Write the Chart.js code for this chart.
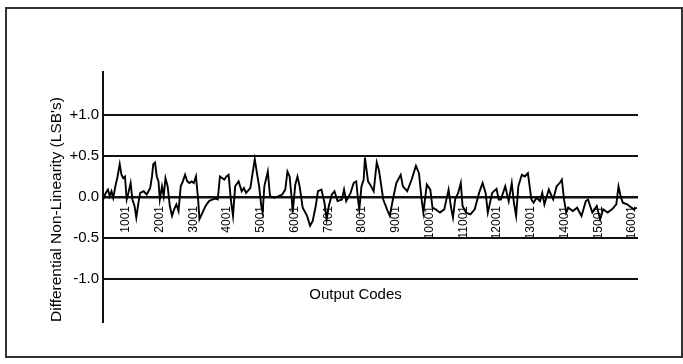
<!DOCTYPE html>
<html>
<head>
<meta charset="utf-8">
<title>Differential Non-Linearity</title>
<script src="https://cdn.jsdelivr.net/npm/chart.js@4.4.0/dist/chart.umd.min.js"></script>
<style>
  html, body { margin: 0; padding: 0; background: #fff; }
  body { width: 683px; height: 364px; position: relative; overflow: hidden; }
  #frame { position: absolute; left: 5px; top: 7px; width: 678px; height: 351px; border: 2px solid #333; box-sizing: border-box; }
  #dnl { position: absolute; left: 0; top: 0; }
</style>
</head>
<body>
<div id="frame"></div>
<canvas id="dnl" width="683" height="364"></canvas>
<script>
(function () {
    "use strict";

    // output code (x) and DNL in LSB's (y)
    const codes = [
        325, 403, 467, 519, 571, 622, 687, 752, 816, 868, 919, 971, 1023, 1074, 1139, 1191, 1255, 1307, 1371, 1423,
        1526, 1617, 1720, 1772, 1810, 1862, 1914, 1965, 2004, 2069, 2120, 2172, 2237, 2301, 2366, 2430, 2495, 2559, 2624, 2688,
        2753, 2818, 2882, 2947, 3011, 3076, 3140, 3179, 3270, 3360, 3463, 3567, 3657, 3722, 3786, 3851, 3915, 3980, 4044, 4109,
        4174, 4238, 4341, 4432, 4496, 4561, 4690, 4755, 4819, 4884, 4948, 5013, 5052, 5103, 5206, 5271, 5400, 5529, 5633, 5723,
        5788, 5852, 5917, 5943, 6020, 6085, 6149, 6240, 6369, 6459, 6537, 6627, 6692, 6795, 6885, 6950, 7014, 7105, 7182, 7273,
        7402, 7466, 7531, 7660, 7750, 7828, 7880, 7918, 7983, 8047, 8086, 8177, 8241, 8344, 8435, 8499, 8564, 8628, 8758, 8822,
        8913, 9016, 9145, 9210, 9339, 9468, 9597, 9687, 9765, 9817, 9920, 10023, 10088, 10178, 10307, 10436, 10565, 10630, 10695, 10759,
        10849, 10927, 10979, 11082, 11211, 11340, 11469, 11573, 11663, 11728, 11857, 11986, 12050, 12115, 12244, 12347, 12438, 12502, 12567, 12632,
        12735, 12825, 12916, 13019, 13083, 13174, 13277, 13342, 13406, 13535, 13665, 13768, 13858, 13923, 13987, 14052, 14117, 14246, 14375, 14504,
        14633, 14698, 14827, 14956, 15059, 15150, 15279, 15408, 15537, 15602, 15666, 15731, 15860, 15924, 16054, 16144
    ];
    const dnl = [
        -0.03, 0.05, 0.09, 0.01, 0.07, -0.01, 0.13, 0.25, 0.40, 0.27, 0.23, 0.25, -0.03, 0.05, 0.17, -0.03, -0.11, -0.25, -0.07, 0.05,
        0.07, 0.03, 0.11, 0.25, 0.40, 0.42, 0.25, 0.19, -0.03, 0.13, 0.01, 0.23, 0.13, -0.11, -0.23, -0.15, -0.09, -0.17, 0.13, 0.19,
        0.27, 0.19, 0.17, 0.19, 0.17, 0.25, -0.03, -0.27, -0.19, -0.11, -0.05, -0.03, -0.02, -0.03, 0.25, 0.23, 0.21, 0.25, 0.27, -0.03,
        -0.23, 0.13, 0.19, 0.07, 0.11, 0.05, 0.11, 0.29, 0.46, 0.29, 0.13, -0.11, -0.19, 0.13, 0.31, 0.01, -0.01, 0.01, 0.03, 0.09,
        0.31, 0.25, -0.03, -0.19, 0.15, 0.25, 0.13, -0.13, -0.23, -0.35, -0.29, -0.11, 0.07, 0.09, -0.07, -0.27, -0.11, 0.03, 0.07, -0.05,
        -0.03, 0.09, -0.05, 0.05, 0.17, 0.19, -0.03, -0.15, 0.13, 0.21, 0.48, 0.19, 0.15, 0.07, 0.42, 0.33, 0.15, -0.03, -0.17, -0.23,
        -0.03, 0.17, 0.27, 0.13, 0.07, 0.21, 0.38, 0.29, -0.03, -0.19, 0.15, 0.09, -0.13, -0.15, -0.19, -0.15, 0.09, -0.11, -0.25, -0.03,
        0.05, 0.17, -0.11, -0.19, -0.21, -0.15, 0.05, 0.17, 0.05, -0.19, 0.05, 0.10, -0.03, -0.03, 0.13, -0.05, 0.17, -0.07, -0.23, 0.13,
        0.27, 0.25, 0.29, -0.03, -0.07, -0.01, -0.05, 0.05, -0.09, 0.09, -0.03, 0.13, 0.17, 0.21, -0.03, -0.19, -0.13, -0.17, -0.13, -0.23,
        -0.05, -0.03, -0.19, -0.11, -0.27, -0.15, -0.19, -0.15, -0.09, 0.13, 0.01, -0.07, -0.09, -0.11, -0.15, -0.13
    ];
    const xTickCodes = [1001, 2001, 3001, 4001, 5001, 6001, 7001, 8001, 9001, 10001, 11001, 12001, 13001, 14001, 15001, 16001];
    const yTickValues = [-1.0, -0.5, 0.0, 0.5, 1.0];

    const xMin = 320, xMax = 16180;
    const yMin = -1.52, yMax = 1.52;

    Chart.defaults.font.family = '"Liberation Sans", Arial, Helvetica, sans-serif';
    Chart.defaults.color = '#000';

    // "Output Codes" sits inside the plot, a bit left of centre
    const outputCodesLabel = {
        id: 'outputCodesLabel',
        afterDraw(chart) {
            const area = chart.chartArea;
            const ctx = chart.ctx;
            ctx.save();
            ctx.font = '15px "Liberation Sans", Arial, sans-serif';
            ctx.fillStyle = '#000';
            ctx.textAlign = 'center';
            ctx.textBaseline = 'middle';
            ctx.fillText('Output Codes', area.left + (area.right - area.left) * 0.472, chart.scales.y.getPixelForValue(-1.19));
            ctx.restore();
        }
    };

    function initChart() {
        const ctx = document.getElementById('dnl').getContext('2d');
        new Chart(ctx, {
            type: 'line',
            data: {
                datasets: [{
                    label: 'DNL',
                    data: codes.map((c, i) => ({ x: c, y: dnl[i] })),
                    borderColor: '#000',
                    borderWidth: 1.9,
                    pointRadius: 0,
                    tension: 0,
                    fill: false
                }]
            },
            options: {
                responsive: false,
                animation: false,
                layout: { padding: { left: 0, top: 72, right: 45, bottom: 42 } },
                plugins: {
                    legend: { display: false },
                    tooltip: { enabled: false }
                },
                scales: {
                    x: {
                        type: 'linear',
                        position: { y: 0 },
                        min: xMin,
                        max: xMax,
                        afterBuildTicks: scale => {
                            scale.ticks = xTickCodes.map(v => ({ value: v }));
                        },
                        grid: { display: false, drawTicks: false },
                        border: { display: false },
                        ticks: {
                            autoSkip: false,
                            minRotation: 90,
                            maxRotation: 90,
                            padding: 9,
                            font: { size: 12 },
                            callback: v => String(v)
                        }
                    },
                    y: {
                        min: yMin,
                        max: yMax,
                        afterBuildTicks: scale => {
                            scale.ticks = yTickValues.map(v => ({ value: v }));
                        },
                        afterFit: scale => { scale.width = 103; },
                        grid: {
                            drawTicks: false,
                            color: '#111',
                            lineWidth: c => (c.tick && c.tick.value === 0 ? 2.6 : 2)
                        },
                        border: { display: true, color: '#111', width: 2 },
                        ticks: {
                            padding: 4,
                            font: { size: 15 },
                            callback: v => (v > 0 ? '+' : '') + Number(v).toFixed(1)
                        },
                        title: {
                            display: true,
                            text: "Differential Non-Linearity (LSB's)",
                            align: 'start',
                            font: { size: 15.5 },
                            padding: { top: 47, bottom: 0 }
                        }
                    }
                }
            },
            plugins: [outputCodesLabel]
        });
    }

    document.addEventListener('DOMContentLoaded', initChart);
})();
</script>
</body>
</html>
